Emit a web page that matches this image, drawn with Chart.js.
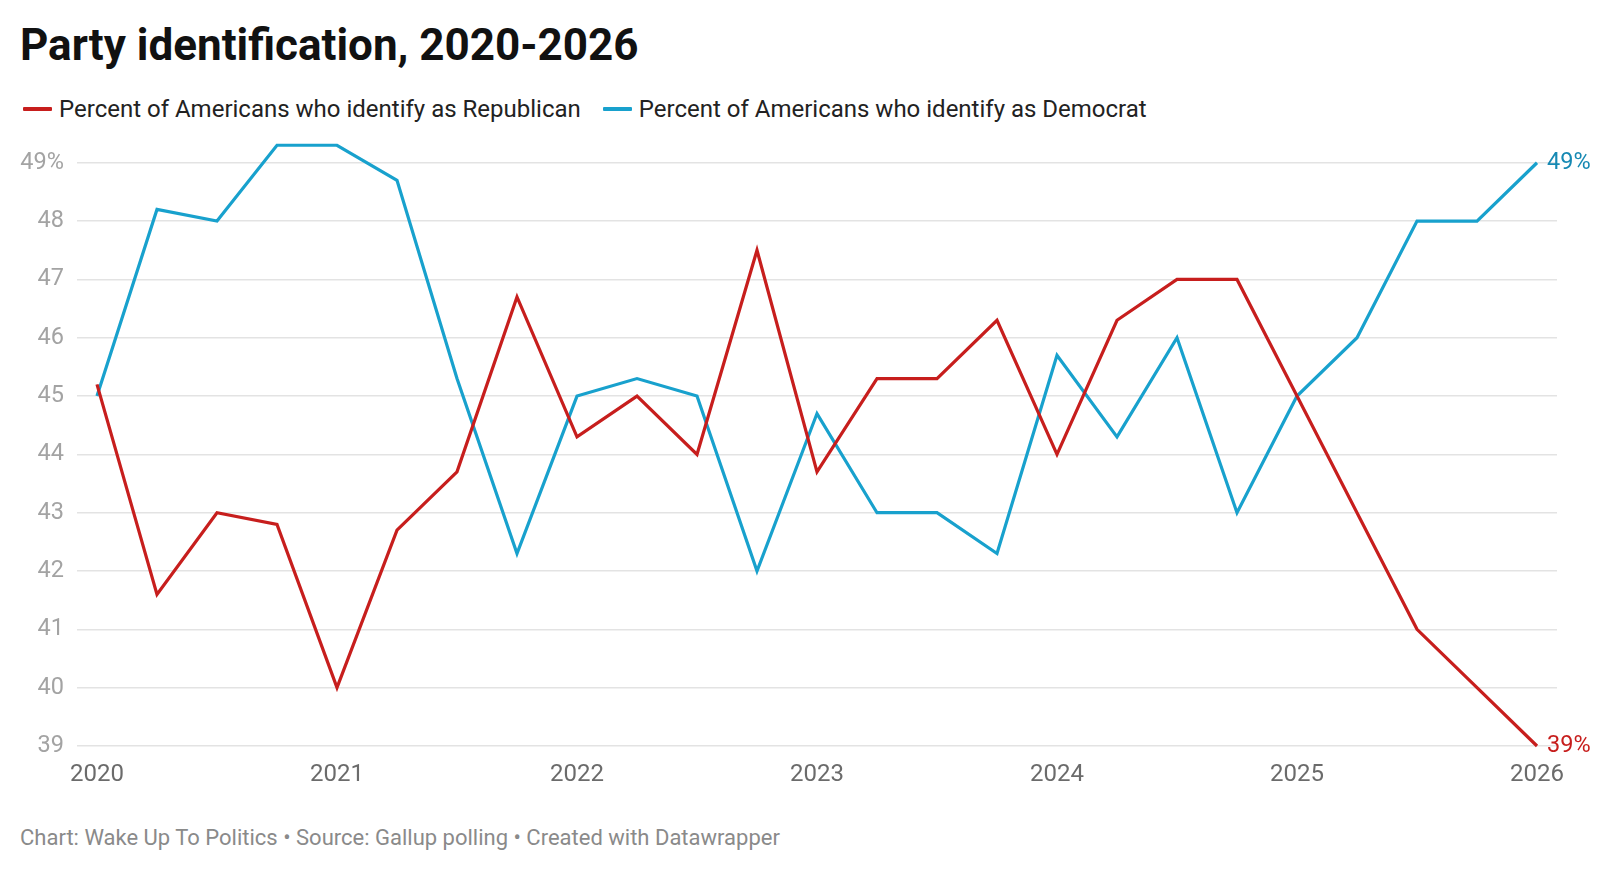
<!DOCTYPE html>
<html lang="en">
<head>
    <meta charset="UTF-8">
    <title>Party identification, 2020-2026</title>
    <script src="https://cdn.jsdelivr.net/npm/chart.js"></script>
    <style>
        body {
            margin: 0;
            background: #fff;
            font-family: Roboto, "Noto Sans", sans-serif;
            width: 1612px;
            height: 872px;
            position: relative;
            overflow: hidden;
        }
        h1 {
            position: absolute;
            left: 20px;
            top: 20px;
            margin: 0;
            font-size: 44px;
            font-weight: 700;
            color: #111;
            line-height: 50px;
        }
        #legend {
            position: absolute;
            left: 23px;
            top: 95px;
            display: flex;
            align-items: center;
            font-size: 24px;
            color: #222;
            line-height: 28px;
        }
        .item {
            display: flex;
            align-items: center;
            margin-right: 22px;
        }
        .swatch {
            width: 29px;
            height: 4px;
            border-radius: 1px;
            margin-right: 7px;
        }
        #chartBox {
            position: absolute;
            left: 0;
            top: 120px;
            width: 1612px;
            height: 700px;
        }
        #footer {
            position: absolute;
            left: 20px;
            top: 825px;
            font-size: 22px;
            line-height: 26px;
            color: #8a8a8a;
        }
    </style>
</head>
<body>
    <h1>Party identification, 2020-2026</h1>
    <div id="legend"></div>
    <div id="chartBox"><canvas id="partyChart"></canvas></div>
    <div id="footer">Chart: Wake Up To Politics • Source: Gallup polling • Created with Datawrapper</div>

    <script>
        // quarterly readings, 2020 Q1 .. 2026 Q1
        const quarters = [
            2020, 2020.25, 2020.5, 2020.75,
            2021, 2021.25, 2021.5, 2021.75,
            2022, 2022.25, 2022.5, 2022.75,
            2023, 2023.25, 2023.5, 2023.75,
            2024, 2024.25, 2024.5, 2024.75,
            2025, 2025.25, 2025.5, 2025.75,
            2026
        ];
        const republican = [
            45.2, 41.6, 43, 42.8,
            40, 42.7, 43.7, 46.7,
            44.3, 45, 44, 47.5,
            43.7, 45.3, 45.3, 46.3,
            44, 46.3, 47, 47,
            45, 43, 41, 40,
            39
        ];
        const democrat = [
            45, 48.2, 48, 49.3,
            49.3, 48.7, 45.3, 42.3,
            45, 45.3, 45, 42,
            44.7, 43, 43, 42.3,
            45.7, 44.3, 46, 43,
            45, 46, 48, 48,
            49
        ];
        const yearTicks = [2020, 2021, 2022, 2023, 2024, 2025, 2026];
        const valueTicks = [39, 40, 41, 42, 43, 44, 45, 46, 47, 48, 49];

        const seriesNames = [
            'Percent of Americans who identify as Republican',
            'Percent of Americans who identify as Democrat'
        ];
        const lineColors = ['#c71e1d', '#18a1cd'];
        const labelColors = ['#c71e1d', '#1689b3'];

        // legend
        const legend = document.getElementById('legend');
        seriesNames.forEach((name, i) => {
            const item = document.createElement('div');
            item.className = 'item';
            item.innerHTML = '<span class="swatch" style="background:' + lineColors[i] + '"></span>' + name;
            legend.appendChild(item);
        });

        // writes the last value next to each line
        const endLabels = {
            id: 'endLabels',
            afterDatasetsDraw(chart) {
                const c = chart.ctx;
                c.save();
                c.font = '23.5px Roboto';
                c.textAlign = 'left';
                c.textBaseline = 'middle';
                chart.data.datasets.forEach((ds, i) => {
                    const pts = chart.getDatasetMeta(i).data;
                    const last = pts[pts.length - 1];
                    const val = ds.data[ds.data.length - 1].y;
                    c.fillStyle = labelColors[i];
                    c.fillText(Math.round(val) + '%', last.x + 10, last.y);
                });
                c.restore();
            }
        };

        const ctx = document.getElementById('partyChart').getContext('2d');

        const partyChart = new Chart(ctx, {
            type: 'line',
            data: {
                datasets: [republican, democrat].map((vals, i) => ({
                    label: seriesNames[i],
                    data: vals.map((v, j) => ({ x: quarters[j], y: v })),
                    borderColor: lineColors[i],
                    borderWidth: 3.2,
                    pointRadius: 0,
                    tension: 0,
                    clip: false
                }))
            },
            options: {
                responsive: true,
                maintainAspectRatio: false,
                animation: false,
                layout: {
                    padding: { top: 13.6, right: 55, bottom: 30, left: 0 }
                },
                scales: {
                    x: {
                        type: 'linear',
                        min: 2019.9167,
                        max: 2026.0833,
                        afterBuildTicks: s => { s.ticks = yearTicks.map(v => ({ value: v })); },
                        afterFit: s => { s.height = 44; },
                        grid: { display: false },
                        border: { display: false },
                        ticks: {
                            padding: 7,
                            color: '#6b6b6b',
                            font: { family: 'Roboto', size: 24 },
                            maxRotation: 0,
                            callback: v => String(v)
                        }
                    },
                    y: {
                        min: 39,
                        max: 49.5,
                        afterBuildTicks: s => { s.ticks = valueTicks.map(v => ({ value: v })); },
                        afterFit: s => {
                            s.width = 77;
                            s.paddingTop = 0;
                            s.paddingBottom = 0;
                        },
                        grid: {
                            color: '#e3e3e3',
                            lineWidth: 1.6,
                            drawTicks: false
                        },
                        border: { display: false },
                        ticks: {
                            padding: 13,
                            color: '#a3a3a3',
                            font: { family: 'Roboto', size: 23.5 },
                            callback: v => v === 49 ? '49%' : String(v)
                        }
                    }
                },
                plugins: {
                    legend: { display: false },
                    tooltip: { enabled: false }
                }
            },
            plugins: [endLabels]
        });
    </script>
</body>
</html>
